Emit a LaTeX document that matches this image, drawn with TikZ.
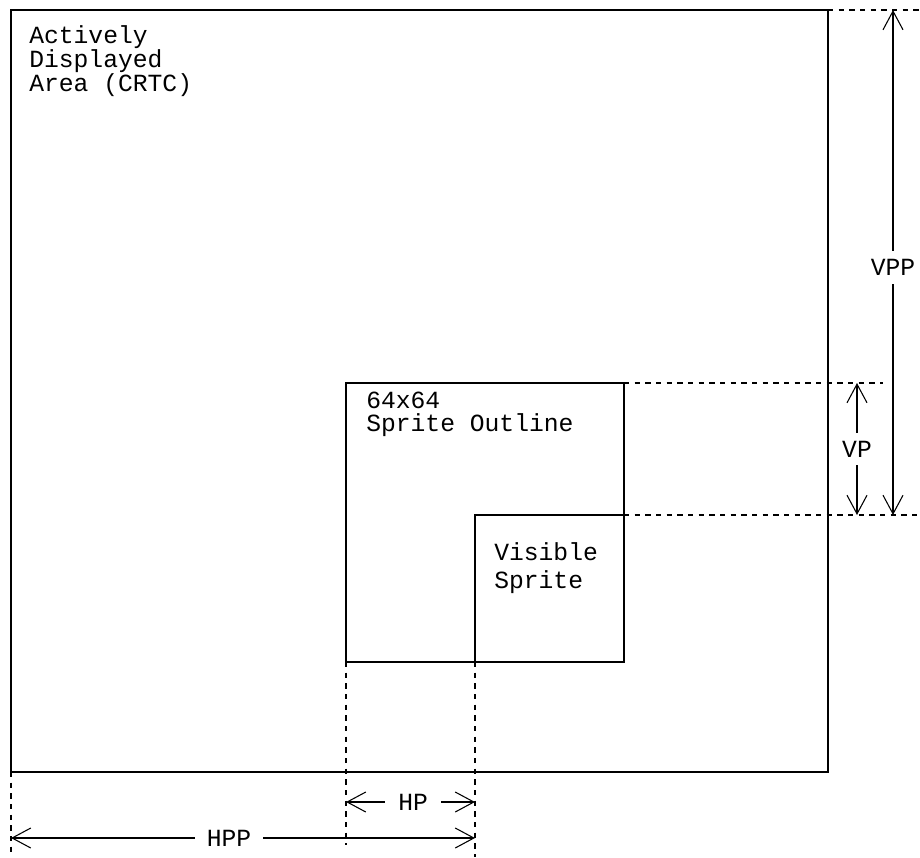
\documentclass[tikz,border=0pt]{standalone}
\usepackage{fontspec}
\setmonofont{Liberation Mono}
\usetikzlibrary{calc, positioning, arrows.meta}
\tikzset{
  box/.style={line width=1.1pt},
  ext/.style={line width=0.8pt, dash pattern=on 4pt off 4pt},
  dim/.style={line width=0.8pt, {Straight Barb[length=14pt, width=15pt]}-{Straight Barb[length=14pt, width=15pt]}},
  txt/.style={align=left, inner sep=0pt, anchor=base west},
  dimtxt/.style={font=\ttfamily\fontsize{18.5}{15}\selectfont, fill=white, inner sep=3pt}
}
\newcommand{\monotxt}[1]{\ttfamily\fontsize{18.5}{#1}\selectfont\lineskiplimit=-30pt}
\begin{document}
\begin{tikzpicture}[x=0.75pt, y=-0.75pt]
          \useasboundingbox (0, 0) rectangle (920, 857);
          \coordinate (crtc nw) at (11, 10);
          \coordinate (crtc se) at (828, 772);
          \coordinate (spr nw) at (346, 383);
          \coordinate (spr se) at (624, 662);
          \coordinate (vis nw) at (475, 515);
          \draw[box] (crtc nw) rectangle (crtc se);
          \draw[box] (spr nw) rectangle (spr se);
          \draw[box] (vis nw) rectangle (spr se);
          \node[txt, font=\monotxt{17.8}] (crtc) at (29, 91) {Actively\\Displayed\\Area (CRTC)};
          \node[txt, font=\monotxt{16.8}] (outline) at (366, 431) {64x64\\Sprite Outline};
          \node[txt, font=\monotxt{20.3}] (visible) at (494, 588) {Visible\\Sprite};
          \coordinate (vpp top) at (893, 10);
          \coordinate (vpp bot) at (893, 515);
          \coordinate (vp top) at (857, 383);
          \coordinate (vp bot) at (857, 515);
          \coordinate (hp left) at (346, 802);
          \coordinate (hp right) at (475, 802);
          \coordinate (hpp left) at (11, 838);
          \coordinate (hpp right) at (475, 838);
          \draw[ext] (crtc se |- crtc nw) -- (920, 10);
          \draw[ext] (spr se |- spr nw) -- (883, 383);
          \draw[ext] (spr se |- vis nw) -- (920, 515);
          \draw[ext] (spr nw |- spr se) -- (346, 845);
          \draw[ext] (vis nw |- spr se) -- (475, 857);
          \draw[ext] (crtc nw |- crtc se) -- (11, 857);
          \draw[dim] (vpp top) -- (vpp bot) node[dimtxt, pos=0.51, inner ysep=6pt] (vpp) {VPP};
          \draw[dim] (vp top) -- (vp bot) node[dimtxt, midway, inner ysep=6pt] (vp) {VP};
          \draw[dim] (hp left) -- (hp right) node[dimtxt, pos=0.52, inner xsep=10pt] (hp) {HP};
          \draw[dim] (hpp left) -- (hpp right) node[dimtxt, pos=0.47, inner xsep=9pt] (hpp) {HPP};
      \end{tikzpicture}
\end{document}
